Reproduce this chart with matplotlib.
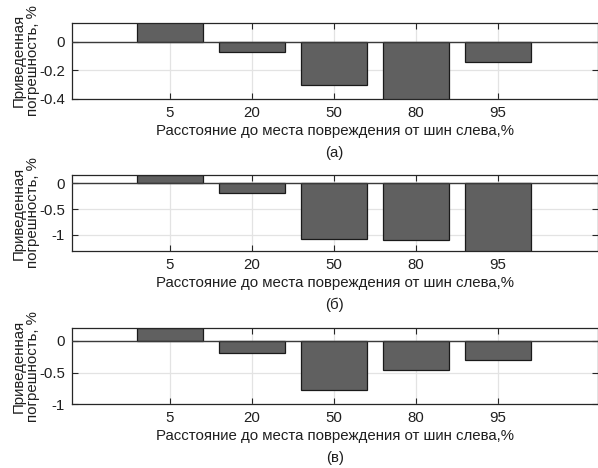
import matplotlib
matplotlib.use("Agg")
import matplotlib.pyplot as plt
from matplotlib.transforms import offset_copy

plt.rcParams["font.family"] = ["Liberation Sans", "DejaVu Sans"]
plt.rcParams["axes.unicode_minus"] = False

# distance to the fault from the left busbars, %
distances = ["5", "20", "50", "80", "95"]

# reduced error, % (three cases)
err_a = [0.14, -0.073, -0.303, -0.42, -0.143]
err_b = [0.16, -0.19, -1.08, -1.10, -1.35]
err_c = [0.20, -0.195, -0.77, -0.46, -0.30]

ylims = [(-0.4, 0.136), (-1.31, 0.16), (-1.0, 0.20)]
yticks = [[-0.4, -0.2, 0], [-1, -0.5, 0], [-1, -0.5, 0]]
ytick_labels = [["-0.4", "-0.2", "0"], ["-1", "-0.5", "0"], ["-1", "-0.5", "0"]]
panel_tags = ["(а)", "(б)", "(в)"]

W, H = 598, 468
fig = plt.figure(figsize=(W / 100, H / 100), dpi=100)

# axes boxes in pixels: (top, bottom)
boxes = [(22.7, 98.7), (175, 251), (328.3, 404.3)]
left_px, right_px = 72, 597.5

pos = list(range(1, len(distances) + 1))
edge = "#262626"
txt = "#1f1f1f"
fs = 10.8

for (top, bot), vals, yl, yt, ytl, tag in zip(boxes, [err_a, err_b, err_c],
                                              ylims, yticks, ytick_labels, panel_tags):
    ax = fig.add_axes([left_px / W, 1 - bot / H, (right_px - left_px) / W, (bot - top) / H])
    ax.bar(pos, vals, width=0.8, color="#606060", edgecolor="#1a1a1a",
           linewidth=0.9, zorder=2)
    ax.axhline(0, color="#3a3a3a", linewidth=1.0, zorder=3)
    ax.set_xlim(-0.195, 6.215)
    ax.set_ylim(*yl)
    ax.set_xticks(pos)
    ax.set_xticklabels(distances)
    ax.set_yticks(yt)
    ax.set_yticklabels(ytl)
    ax.grid(True, color="#e3e3e3", linewidth=0.9, zorder=0)
    ax.set_axisbelow(True)
    ax.tick_params(direction="in", length=4, width=0.8, color=edge,
                   top=True, right=True, labelsize=fs, pad=5, labelcolor=txt)
    for s in ax.spines.values():
        s.set_color(edge)
        s.set_linewidth(0.9)

    tr = offset_copy(ax.transAxes, fig=fig, x=0, y=-32, units="dots")
    ax.text(0.5, 0, "Расстояние до места повреждения от шин слева,%",
            transform=tr, ha="center", va="center", fontsize=fs, color=txt)
    tr2 = offset_copy(ax.transAxes, fig=fig, x=0, y=-54, units="dots")
    ax.text(0.5, 0, tag, transform=tr2, ha="center", va="center",
            fontsize=fs, color=txt)

    fig.text(25.5 / W, 1 - (top + bot) / 2 / H, "Приведенная\nпогрешность, %",
             rotation=90, ha="center", va="center", fontsize=fs,
             color=txt, linespacing=1.0)

fig.savefig("out.png", dpi=100)
